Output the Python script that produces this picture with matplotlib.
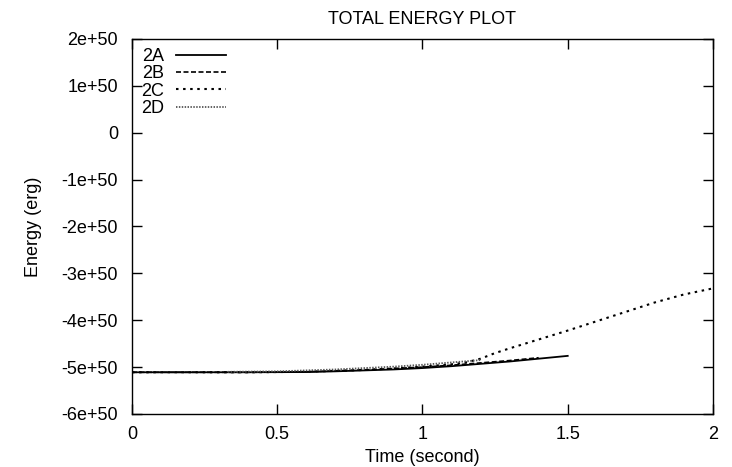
import matplotlib
matplotlib.use("Agg")
import matplotlib.pyplot as plt
from matplotlib.ticker import FuncFormatter, MultipleLocator

plt.rcParams['font.family'] = ['Liberation Sans', 'DejaVu Sans']

# Total energy (erg, in units of 1e50) versus time (s)
t_2a = [0.0, 0.2, 0.4, 0.6, 0.7, 0.8, 0.9, 1.0, 1.1, 1.2, 1.3, 1.4, 1.5]
e_2a = [-5.11, -5.11, -5.11, -5.105, -5.09, -5.07, -5.05, -5.02, -4.98, -4.93, -4.88, -4.82, -4.76]

t_2b = [0.0, 0.2, 0.4, 0.6, 0.7, 0.8, 0.9, 1.0, 1.1, 1.2, 1.3, 1.4]
e_2b = [-5.11, -5.11, -5.11, -5.10, -5.08, -5.06, -5.03, -5.00, -4.96, -4.91, -4.86, -4.80]

t_2c = [0.0, 0.2, 0.4, 0.6, 0.8, 0.9, 1.0, 1.1, 1.15, 1.2, 1.25, 1.3, 1.4, 1.5, 1.6, 1.7, 1.8, 1.9, 2.0]
e_2c = [-5.11, -5.11, -5.11, -5.10, -5.06, -5.03, -4.99, -4.94, -4.90, -4.82, -4.70, -4.60, -4.41, -4.22, -4.02, -3.82, -3.62, -3.45, -3.32]

t_2d = [0.33, 0.5, 0.6, 0.7, 0.8, 0.9, 1.0, 1.1, 1.2]
e_2d = [-5.10, -5.09, -5.07, -5.05, -5.02, -4.99, -4.95, -4.90, -4.85]

SCALE = 1e50
FS = 13

fig = plt.figure(figsize=(7.32, 4.67), dpi=100)
ax = fig.add_axes([0.1803, 0.1135, 0.7937, 0.803])

ax.plot(t_2a, [v * SCALE for v in e_2a], color='black', lw=1.3, ls='-', label='2A')
ax.plot(t_2b, [v * SCALE for v in e_2b], color='black', lw=1.2, ls=(0, (3, 1.5)), label='2B')
ax.plot(t_2c, [v * SCALE for v in e_2c], color='black', lw=1.5, ls=(0, (1.2, 2.2)), label='2C')
ax.plot(t_2d, [v * SCALE for v in e_2d], color='#555555', lw=1.3, ls=(0, (0.8, 0.8)), label='2D')

ax.set_xlim(0, 2)
ax.set_ylim(-6e50, 2e50)
ax.xaxis.set_major_locator(MultipleLocator(0.5))
ax.yaxis.set_major_locator(MultipleLocator(1e50))


def fmt_y(v, pos):
    if abs(v) < 1e40:
        return "0"
    return f"{v:.0e}"


def fmt_x(v, pos):
    return f"{v:g}"


ax.yaxis.set_major_formatter(FuncFormatter(fmt_y))
ax.xaxis.set_major_formatter(FuncFormatter(fmt_x))
ax.yaxis.get_offset_text().set_visible(False)

ax.tick_params(direction='in', top=True, right=True, length=7, width=1,
               labelsize=FS)
ax.tick_params(axis='y', pad=10)
ax.tick_params(axis='x', pad=9)
for s in ax.spines.values():
    s.set_linewidth(1.0)

ax.set_title('TOTAL ENERGY PLOT', fontsize=FS, pad=11)
ax.set_xlabel('Time (second)', fontsize=FS, labelpad=4)
ax.set_ylabel('Energy (erg)', fontsize=FS, labelpad=14)

leg = ax.legend(loc='upper left', frameon=False, markerfirst=False,
                fontsize=FS, handlelength=2.8, handletextpad=0.65,
                labelspacing=0.02, borderaxespad=0.2, borderpad=0.3)

fig.savefig('out.png', dpi=100)
